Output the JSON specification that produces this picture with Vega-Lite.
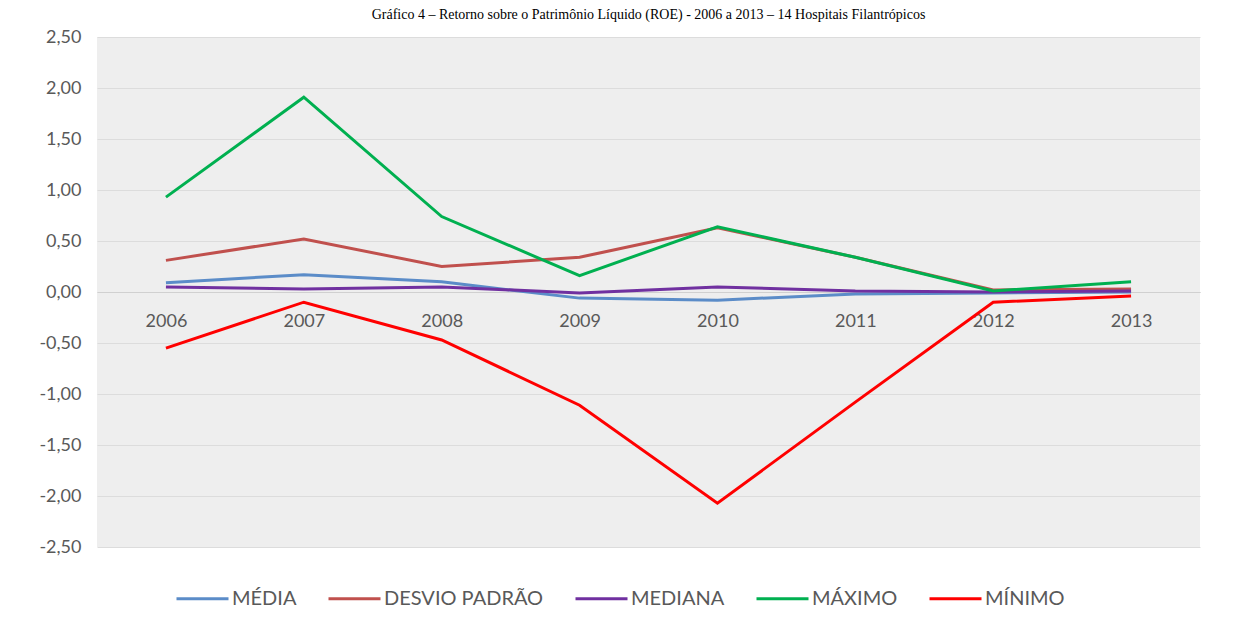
{
  "$schema": "https://vega.github.io/schema/vega-lite/v6.json",
  "width": 1103,
  "height": 510,
  "autosize": {"type": "none"},
  "padding": {"left": 97, "top": 37, "right": 33, "bottom": 85},
  "background": "white",
  "title": {
    "text": "Gráfico 4 – Retorno sobre o Patrimônio Líquido (ROE) - 2006 a 2013 – 14 Hospitais Filantrópicos",
    "font": "Liberation Serif",
    "fontSize": 14,
    "fontWeight": "normal",
    "color": "#000000",
    "anchor": "middle",
    "baseline": "bottom",
    "offset": -8
  },
  "config": {
    "view": {"fill": "#eeeeee", "stroke": null},
    "font": "Lato"
  },
  "data": {
    "values": [
      {"ano": "2006", "serie": "MÉDIA", "valor": 0.09},
      {"ano": "2007", "serie": "MÉDIA", "valor": 0.17},
      {"ano": "2008", "serie": "MÉDIA", "valor": 0.10},
      {"ano": "2009", "serie": "MÉDIA", "valor": -0.06},
      {"ano": "2010", "serie": "MÉDIA", "valor": -0.08},
      {"ano": "2011", "serie": "MÉDIA", "valor": -0.02},
      {"ano": "2012", "serie": "MÉDIA", "valor": -0.01},
      {"ano": "2013", "serie": "MÉDIA", "valor": 0.00},
      {"ano": "2006", "serie": "DESVIO PADRÃO", "valor": 0.31},
      {"ano": "2007", "serie": "DESVIO PADRÃO", "valor": 0.52},
      {"ano": "2008", "serie": "DESVIO PADRÃO", "valor": 0.25},
      {"ano": "2009", "serie": "DESVIO PADRÃO", "valor": 0.34},
      {"ano": "2010", "serie": "DESVIO PADRÃO", "valor": 0.63},
      {"ano": "2011", "serie": "DESVIO PADRÃO", "valor": 0.34},
      {"ano": "2012", "serie": "DESVIO PADRÃO", "valor": 0.02},
      {"ano": "2013", "serie": "DESVIO PADRÃO", "valor": 0.03},
      {"ano": "2006", "serie": "MEDIANA", "valor": 0.05},
      {"ano": "2007", "serie": "MEDIANA", "valor": 0.03},
      {"ano": "2008", "serie": "MEDIANA", "valor": 0.05},
      {"ano": "2009", "serie": "MEDIANA", "valor": -0.01},
      {"ano": "2010", "serie": "MEDIANA", "valor": 0.05},
      {"ano": "2011", "serie": "MEDIANA", "valor": 0.01},
      {"ano": "2012", "serie": "MEDIANA", "valor": 0.00},
      {"ano": "2013", "serie": "MEDIANA", "valor": 0.01},
      {"ano": "2006", "serie": "MÁXIMO", "valor": 0.93},
      {"ano": "2007", "serie": "MÁXIMO", "valor": 1.91},
      {"ano": "2008", "serie": "MÁXIMO", "valor": 0.74},
      {"ano": "2009", "serie": "MÁXIMO", "valor": 0.16},
      {"ano": "2010", "serie": "MÁXIMO", "valor": 0.64},
      {"ano": "2011", "serie": "MÁXIMO", "valor": 0.34},
      {"ano": "2012", "serie": "MÁXIMO", "valor": 0.01},
      {"ano": "2013", "serie": "MÁXIMO", "valor": 0.10},
      {"ano": "2006", "serie": "MÍNIMO", "valor": -0.55},
      {"ano": "2007", "serie": "MÍNIMO", "valor": -0.10},
      {"ano": "2008", "serie": "MÍNIMO", "valor": -0.47},
      {"ano": "2009", "serie": "MÍNIMO", "valor": -1.11},
      {"ano": "2010", "serie": "MÍNIMO", "valor": -2.07},
      {"ano": "2011", "serie": "MÍNIMO", "valor": -1.08},
      {"ano": "2012", "serie": "MÍNIMO", "valor": -0.10},
      {"ano": "2013", "serie": "MÍNIMO", "valor": -0.04}
    ]
  },
  "mark": {"type": "line", "strokeWidth": 3},
  "encoding": {
    "x": {
      "field": "ano",
      "type": "ordinal",
      "scale": {"type": "point", "padding": 0.5},
      "axis": {
        "title": null,
        "offset": -255,
        "labelAngle": 0,
        "labelFontSize": 18,
        "labelColor": "#595959",
        "labelPadding": 20,
        "ticks": false,
        "domainColor": "#d0d0d0",
        "domainWidth": 1,
        "grid": false
      }
    },
    "y": {
      "field": "valor",
      "type": "quantitative",
      "scale": {"domain": [-2.5, 2.5], "nice": false, "zero": false},
      "axis": {
        "title": null,
        "values": [-2.5, -2, -1.5, -1, -0.5, 0, 0.5, 1, 1.5, 2, 2.5],
        "labelExpr": "replace(replace(format(datum.value, '.2f'), '.', ','), '−', '-')",
        "labelFontSize": 18,
        "labelColor": "#595959",
        "labelPadding": 16,
        "ticks": false,
        "domain": false,
        "gridColor": "#dcdcdc",
        "gridWidth": 1
      }
    },
    "color": {
      "field": "serie",
      "type": "nominal",
      "scale": {
        "domain": ["MÉDIA", "DESVIO PADRÃO", "MEDIANA", "MÁXIMO", "MÍNIMO"],
        "range": ["#5b8cc8", "#c0504d", "#7030a0", "#00b050", "#ff0000"]
      },
      "legend": {
        "title": null,
        "orient": "none",
        "direction": "horizontal",
        "legendX": 78,
        "legendY": 534,
        "symbolType": "stroke",
        "symbolStrokeWidth": 3,
        "symbolSize": 2704,
        "labelFontSize": 20,
        "labelLimit": 400,
        "labelColor": "#595959",
        "labelOffset": 2,
        "columnPadding": 25
      }
    },
    "order": {"field": "ano"}
  }
}
